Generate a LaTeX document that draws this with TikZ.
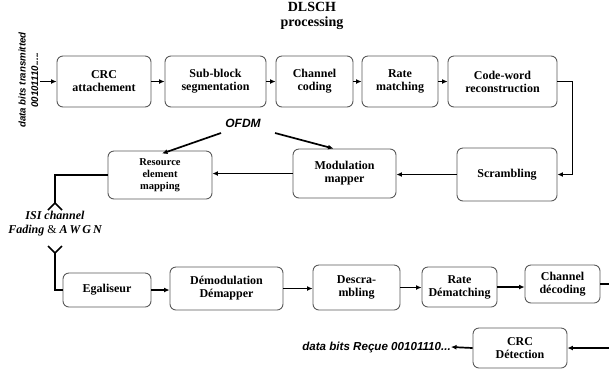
\documentclass[tikz,border=0pt]{standalone}
\usepackage{fontspec}
\setmainfont{Liberation Serif}
\newfontfamily\arialf{Liberation Sans}
\usetikzlibrary{arrows.meta}
\begin{document}
\begin{tikzpicture}[x=1pt,y=-1pt,
  blk/.style={draw=black!65, line width=0.9pt, rounded corners=6pt, align=center, inner sep=1pt,
    font=\bfseries\fontsize{12}{13}\selectfont},
  arr/.style={line width=1.7pt, -{Latex[length=5.5pt,width=5pt]}},
  ln/.style={line width=1.7pt},
  lbl/.style={font=\arialf\bfseries\itshape\fontsize{12}{13}\selectfont, inner sep=0pt}]
\useasboundingbox (0,0) rectangle (609,376);
% title
\node[font=\bfseries\fontsize{14}{15}\selectfont, align=center] (title) at (312,15.5) {DLSCH\\processing};
% row 1
\node[blk, minimum width=94pt, minimum height=51pt] (crc) at (104,81.5) {CRC\\attachement};
\node[blk, minimum width=101pt, minimum height=51pt] (sub) at (215.5,81.5) {Sub-block\\segmentation};
\node[blk, minimum width=77pt, minimum height=51pt] (chc) at (314.5,81.5) {Channel\\coding};
\node[blk, minimum width=76pt, minimum height=51pt] (rm) at (400,81.5) {Rate\\matching};
\node[blk, minimum width=109pt, minimum height=51pt] (cw) at (502.5,81.5) {Code-word\\reconstruction};
% input
\node[font=\arialf\bfseries\itshape\fontsize{9.7}{12.5}\selectfont, rotate=90, align=center, inner sep=0pt] (din) at (28.5,80) {data bits transmitted\\00101110.....};
\coordinate (in) at (40,81.5);
\draw[arr] (in) -- (crc);
\draw[arr] (crc) -- (sub);
\draw[arr] (sub) -- (chc);
\draw[arr] (chc) -- (rm);
\draw[arr] (rm) -- (cw);
% row 2
\node[blk, minimum width=100pt, minimum height=53pt] (scr) at (507,174.5) {Scrambling};
\node[blk, minimum width=103pt, minimum height=49pt] (mod) at (344.5,173.5) {Modulation\\mapper};
\node[blk, minimum width=104pt, minimum height=48pt, font=\bfseries\fontsize{10.5}{12}\selectfont] (res) at (160,175) {Resource\\element\\mapping};
\draw[arr] (cw.east) -- ++(15,0) |- (scr.east);
\draw[arr] (scr.west) -- (scr.west -| mod.east);
\draw[arr] (mod.west) -- (mod.west -| res.east);
% OFDM
\node[lbl] (ofdm) at (243,123) {OFDM};
\coordinate (o1) at (221,133);
\coordinate (o2) at (275,133);
\draw[arr] (o1) -- ([xshift=2pt,yshift=-3pt]res.north);
\draw[arr] (o2) -- ([xshift=-11pt,yshift=0pt]mod.north);
% channel
\coordinate (a1) at (55,203);
\coordinate (a2) at (55,253);
\draw[ln, line join=miter] (res.west) -| (a1);
\draw[ln] (48,210) -- (a1) -- (62,210);
\node[font=\bfseries\itshape\fontsize{12}{13.5}\selectfont, align=center, inner sep=0pt] (isi) at (55,223.5) {ISI channel\\Fading {\normalfont\&} A\,W\,G\,N};
\draw[ln] (48,246) -- (a2) -- (62,246);
% row 3
\node[blk, minimum width=88pt, minimum height=34pt] (ega) at (107,290) {Egaliseur};
\node[blk, minimum width=113pt, minimum height=43pt] (dem) at (226.5,288.5) {Démodulation\\Démapper};
\node[blk, minimum width=87pt, minimum height=45pt] (des) at (356.5,287.5) {Descra-\\mbling};
\node[blk, minimum width=75pt, minimum height=40pt] (rdm) at (459.5,287) {Rate\\Dématching};
\node[blk, minimum width=75pt, minimum height=38pt] (cdc) at (562.5,284) {Channel\\décoding};
\draw[ln, line join=miter] (a2) |- (ega.west);
\draw[arr] (ega.east) -- (ega.east -| dem.west);
\draw[arr] (dem.east) -- (dem.east -| des.west);
\draw[arr] (des.east) -- (des.east -| rdm.west);
\draw[arr] (rdm.east) -- (rdm.east -| cdc.west);
\coordinate (re) at (609,284);
\draw[ln] (cdc.east) -- (re);
% row 4
\node[blk, minimum width=94pt, minimum height=40pt] (crcd) at (520,348) {CRC\\Détection};
\coordinate (re2) at (609,348);
\draw[arr] (re2) -- (crcd.east);
\node[lbl, font=\arialf\bfseries\itshape\fontsize{11.6}{13}\selectfont, anchor=east] (dout) at (451,347) {data bits Reçue 00101110...};
\draw[arr] (crcd.west) -- (dout.east);
\end{tikzpicture}
\end{document}
